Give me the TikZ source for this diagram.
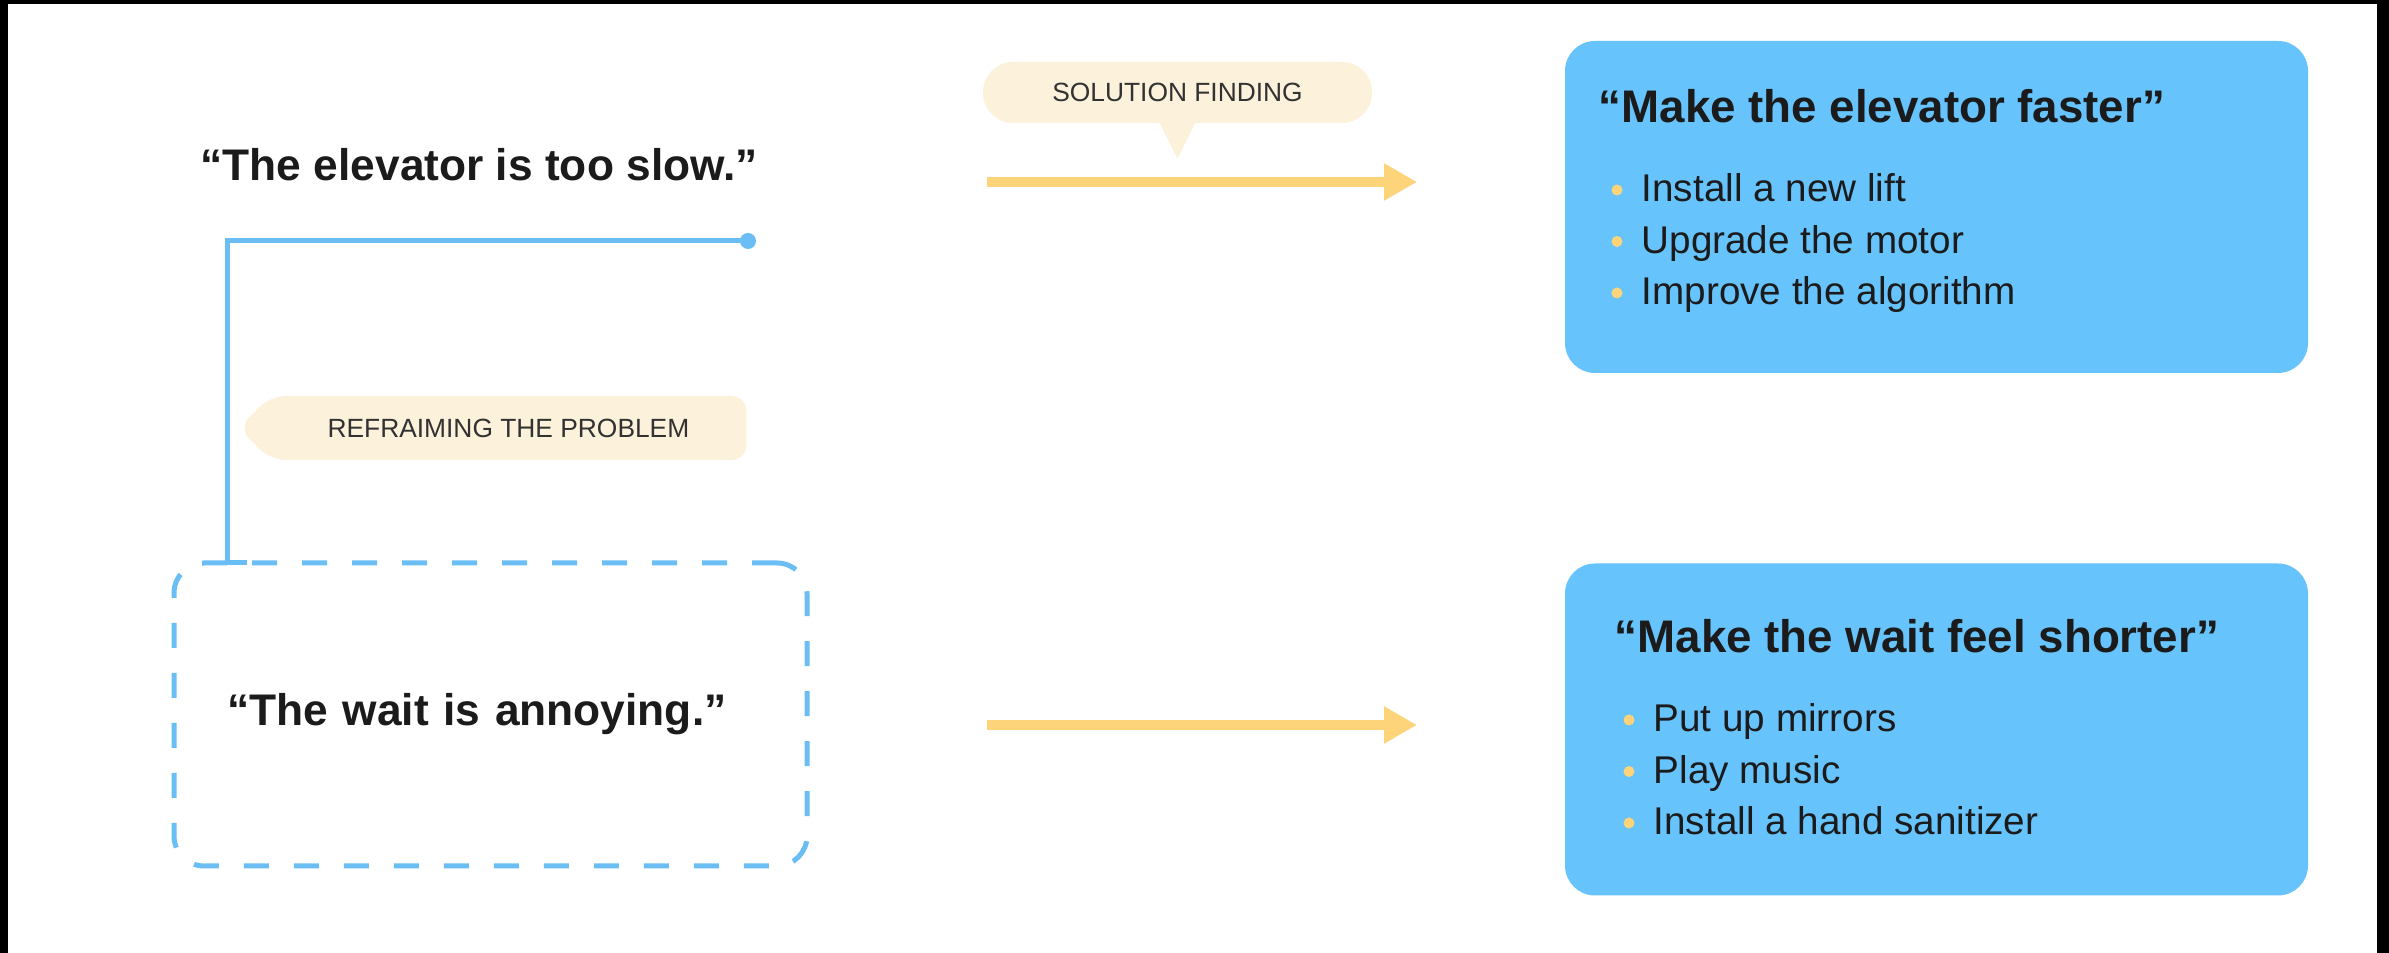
\documentclass[tikz,border=0pt]{standalone}
\usepackage{fontspec}
\setmainfont{Liberation Sans}
\usetikzlibrary{arrows.meta,positioning,shapes.symbols,calc}
\definecolor{skyfill}{HTML}{66C3FC}
\definecolor{skyline}{HTML}{6ABEF3}
\definecolor{sand}{HTML}{FDD479}
\definecolor{cream}{HTML}{FCF1DA}
\definecolor{ink}{HTML}{1B1B1B}

\begin{document}
\begin{tikzpicture}[
  quote/.style={font=\fontsize{12.6}{15}\selectfont\bfseries, text=ink, inner sep=0pt},
  tag/.style={font=\fontsize{7.5}{9}\selectfont, text=ink!90, fill=cream, inner sep=0pt},
  idea/.style={fill=skyfill, rounded corners=0.3cm, minimum width=7.43cm, minimum height=3.32cm},
  item/.style={font=\fontsize{11}{13}\selectfont, text=ink, inner sep=0pt, anchor=west,
               text height=1.5ex, text depth=0.25ex},
  go/.style={sand, line width=0.1cm, -{Triangle[length=0.33cm,width=0.35cm]}},
  link/.style={skyline, line width=0.05cm},
]
  % frame
  \fill[black] (0,0) rectangle (23.89,9.53);
  \fill[white] (0.08,0) rectangle (23.77,9.49);

  % left side: the problem, then reframed
  \node[quote, anchor=west] (slow) at (2.00,7.88) {“The elevator is too slow.”};
  \node[circle, fill=skyline, inner sep=0pt, minimum size=0.16cm] (hook) at (7.48,7.12) {};
  \node[quote, draw=skyline, line width=0.05cm, dash pattern=on 0.25cm off 0.25cm,
        rounded corners=0.3cm, outer sep=0pt, minimum width=6.33cm, minimum height=3.03cm,
        text width=5.27cm, inner xsep=0.53cm, align=left] (annoy) at (4.905,2.385)
        {“The wait is annoying.”};
  \draw[link] (hook.center) -| ($(annoy.north west)+(0.53,0)$) -- ++(0.2,0);
  \node[tag, signal, signal to=west, signal pointer angle=90, rounded corners=0.15cm,
        inner xsep=0.57cm, minimum height=0.64cm, anchor=east] (reframe) at (7.47,5.25)
        {REFRAIMING THE PROBLEM};

  % middle: solution finding
  \node[tag, rounded corners=0.3cm, minimum width=3.89cm, minimum height=0.61cm]
        (solve) at (11.775,8.605) {SOLUTION FINDING};
  \fill[cream] ($(solve.south)+(-0.18,0.01)$) -- ($(solve.south)+(0,-0.35)$)
               -- ($(solve.south)+(0.18,0.01)$) -- cycle;
  \foreach \y/\n in {7.71/1, 2.28/2} {
    \coordinate (from\n) at (9.87,\y);
    \coordinate (to\n) at (14.17,\y);
    \draw[go] (from\n) -- (to\n);
  }

  % right side: solutions
  \node[idea] (faster) at (19.365,7.46) {};
  \node[quote, font=\fontsize{13}{15}\selectfont\bfseries, anchor=west] (fastertitle)
        at (15.98,8.47) {“Make the elevator faster”};
  \foreach \txt [count=\i] in {Install a new lift, Upgrade the motor, Improve the algorithm} {
    \node[item] (f\i) at (16.41,8.145-0.515*\i) {\txt};
    \fill[sand] ($(f\i.west)+(-0.24,0)$) circle (0.055);
  }

  \node[idea] (shorter) at (19.365,2.235) {};
  \node[quote, font=\fontsize{13}{15}\selectfont\bfseries, anchor=west] (shortertitle)
        at (16.14,3.17) {“Make the wait feel shorter”};
  \foreach \txt [count=\i] in {Put up mirrors, Play music, Install a hand sanitizer} {
    \node[item] (s\i) at (16.53,2.845-0.515*\i) {\txt};
    \fill[sand] ($(s\i.west)+(-0.24,0)$) circle (0.055);
  }
\end{tikzpicture}
\end{document}
